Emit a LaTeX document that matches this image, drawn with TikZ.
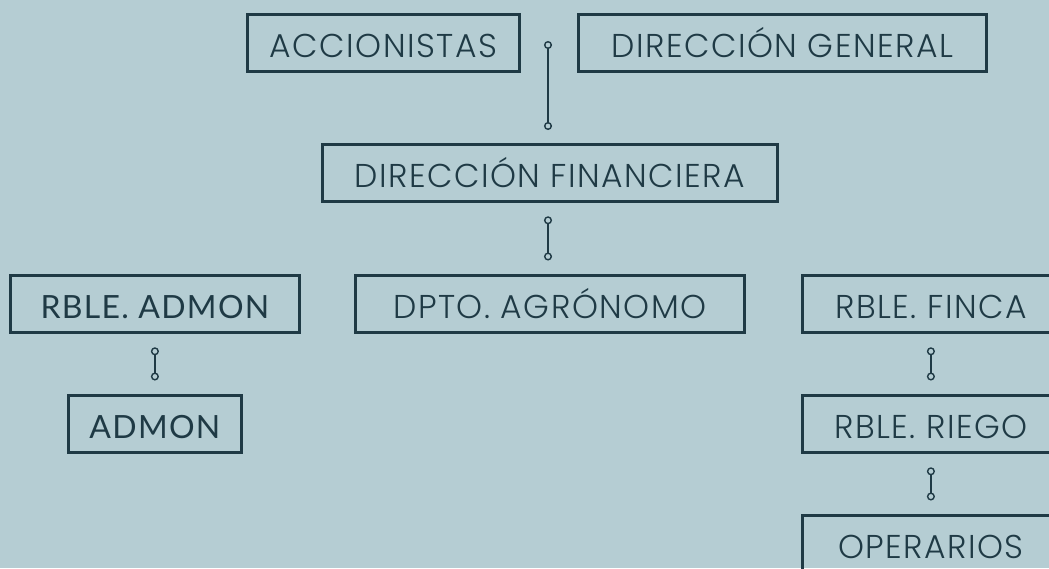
\documentclass[tikz,border=0pt]{standalone}
\usepackage{fontspec}
\usetikzlibrary{arrows.meta}
\newfontfamily\mfont{Poppins}[UprightFont={* Light}, LetterSpace=4.5]
\newfontfamily\lfont{Lato}[LetterSpace=4]
\definecolor{bgc}{HTML}{B5CDD3}
\definecolor{ink}{HTML}{1F3A45}
\tikzset{
  orgbox/.style={draw=ink, line width=2.8pt, text=ink, inner sep=0pt, text height=29pt, text depth=0pt, font=\mfont\fontsize{33}{33}\selectfont, anchor=north west},
  latobox/.style={orgbox, font=\lfont\fontsize{32}{32}\selectfont},
  conn/.style={draw=ink, line width=1.6pt, {Circle[open, length=8pt, width=8pt, line width=1.4pt, fill=bgc]}-{Circle[open, length=8pt, width=8pt, line width=1.4pt, fill=bgc]}}
}
\begin{document}
\begin{tikzpicture}[x=1pt,y=-1pt]
\fill[bgc] (0,0) rectangle (1049,568);
\useasboundingbox (0,0) rectangle (1049,568);
\clip (0,0) rectangle (1049,568);
\node[orgbox, minimum width=272pt, minimum height=57pt] (acc) at (246,13) {ACCIONISTAS};
\node[orgbox, minimum width=408pt, minimum height=57pt] (dg) at (577,13) {DIRECCIÓN GENERAL};
\node[orgbox, minimum width=455pt, minimum height=57pt] (fin) at (321,143) {DIRECCIÓN FINANCIERA};
\node[orgbox, minimum width=389pt, minimum height=57pt] (agr) at (354,274) {DPTO. AGRÓNOMO};
\node[latobox, minimum width=289pt, minimum height=57pt] (radm) at (9,274) {RBLE. ADMON};
\node[latobox, minimum width=173pt, minimum height=57pt] (adm) at (67,394) {ADMON};
\node[orgbox, minimum width=257pt, minimum height=57pt] (rfin) at (801,274) {RBLE. FINCA};
\node[orgbox, minimum width=257pt, minimum height=57pt] (rrie) at (801,394) {RBLE. RIEGO};
\node[orgbox, minimum width=257pt, minimum height=57pt] (oper) at (801,514) {OPERARIOS};
\coordinate (hub) at (548,41);
\draw[conn] (hub) -- ([yshift=13pt]fin.north -| hub);
\draw[conn] ([yshift=-13.5pt]fin.south -| hub) -- ([yshift=13.5pt]agr.north -| hub);
\draw[conn] ([yshift=-13.5pt]radm.south) -- ([yshift=13.5pt]adm.north);
\draw[conn] ([yshift=-13.5pt]rfin.south) -- ([yshift=13.5pt]rrie.north);
\draw[conn] ([yshift=-13.5pt]rrie.south) -- ([yshift=13.5pt]oper.north);
\end{tikzpicture}
\end{document}
